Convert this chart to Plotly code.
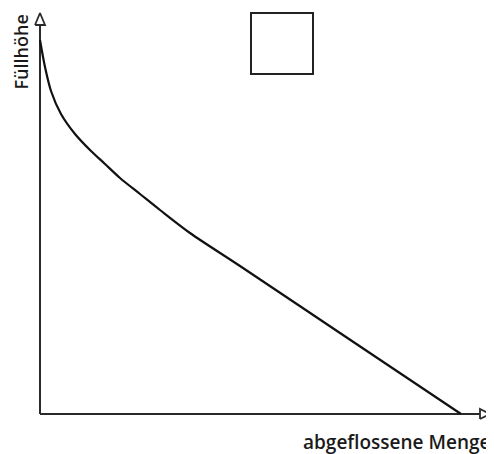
import plotly.graph_objects as go

# Data (arbitrary units)
menge = [0, 5, 11, 21, 35, 51, 65, 80, 100, 120, 150, 200, 300, 421]
fuellhoehe = [374, 347, 323, 300, 280, 263, 250, 236, 220, 204, 181, 148, 81, 0]

x_label = "abgeflossene Menge"
y_label = "Füllhöhe"

fig = go.Figure()

axis_col = "#2a2a2a"

# y axis line + open arrow
fig.add_trace(go.Scatter(x=[0, 0], y=[0, 389], mode="lines",
                         line=dict(color=axis_col, width=2), hoverinfo="skip"))
fig.add_trace(go.Scatter(x=[-5, 5, 0, -5], y=[389, 389, 401, 389], mode="lines",
                         fill="toself", fillcolor="white",
                         line=dict(color=axis_col, width=1.8), hoverinfo="skip"))
# x axis line + open arrow
fig.add_trace(go.Scatter(x=[0, 440], y=[0, 0], mode="lines",
                         line=dict(color=axis_col, width=2), hoverinfo="skip"))
fig.add_trace(go.Scatter(x=[440, 440, 450, 440], y=[-5, 5, 0, -5], mode="lines",
                         fill="toself", fillcolor="white",
                         line=dict(color=axis_col, width=1.8), hoverinfo="skip"))

# curve
fig.add_trace(go.Scatter(x=menge, y=fuellhoehe, mode="lines",
                         line=dict(color="#111111", width=2.2, shape="spline", smoothing=0.9),
                         hoverinfo="skip"))

# square
fig.add_shape(type="rect", x0=211, x1=273, y0=340, y1=401,
              line=dict(color="#222222", width=2), fillcolor="rgba(0,0,0,0)")

# page body has an 8px margin: figure coords = screenshot coords - 8
L, B, PW, PH, FH = 22, 32, 462, 412, 446

fig.add_annotation(xref="paper", yref="paper",
                   x=(389 - L) / PW, y=((FH - B) - 434) / PH,
                   text=x_label, showarrow=False, borderpad=0,
                   font=dict(family="Open Sans", size=19, color="#1a1a1a", weight=600),
                   xanchor="center", yanchor="middle")
fig.add_annotation(xref="paper", yref="paper",
                   x=(12.5 - L) / PW, y=((FH - B) - 44) / PH,
                   text=y_label, showarrow=False, textangle=-90, borderpad=0,
                   font=dict(family="Open Sans", size=18, color="#1a1a1a", weight=600),
                   xanchor="center", yanchor="middle")

fig.update_layout(
    width=486, height=FH,
    margin=dict(l=L, r=2, t=2, b=B, autoexpand=False),
    paper_bgcolor="white", plot_bgcolor="white",
    showlegend=False,
    xaxis=dict(range=[-10, 452], visible=False, fixedrange=True),
    yaxis=dict(range=[-8, 404], visible=False, fixedrange=True),
)

fig.write_html("out.html")
